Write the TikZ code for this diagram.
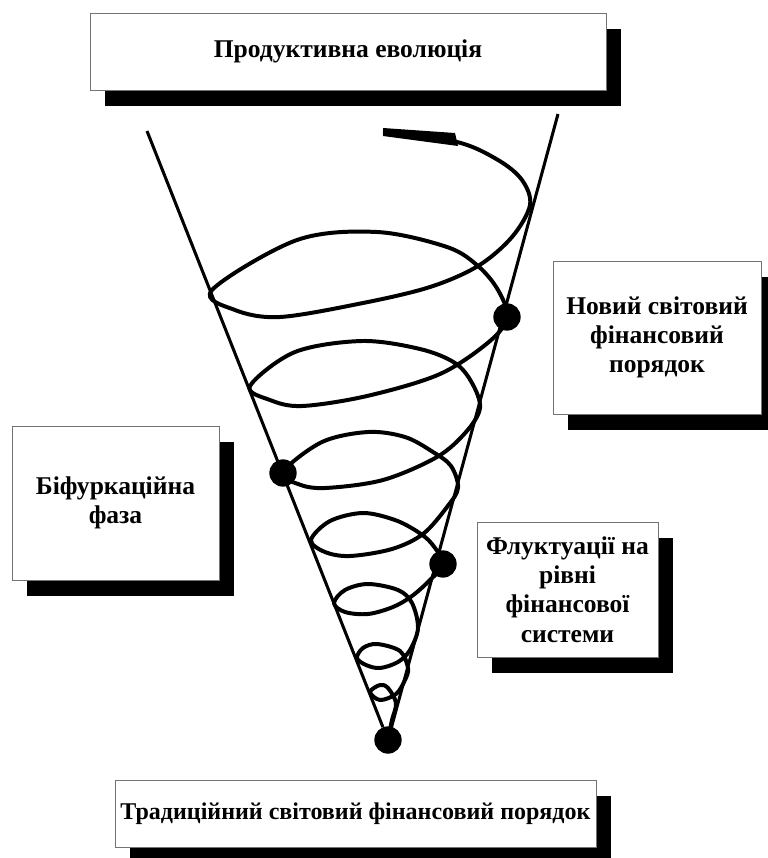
\documentclass[tikz,border=0pt]{standalone}
\usepackage{fontspec}
\setmainfont{Liberation Serif}
\usepackage{tikz}
\usetikzlibrary{arrows.meta, shadows}

\begin{document}
\begin{tikzpicture}[x=0.03cm, y=-0.03cm,
  box/.style={draw=black!55, line width=0.8pt, fill=white, align=center,
              font=\fontsize{21.8}{25}\selectfont\bfseries, inner sep=2pt,
              drop shadow={shadow xshift=0.45cm, shadow yshift=-0.48cm,
                           fill=black, opacity=1}},
  dot/.style={circle, fill=black, inner sep=0pt, minimum size=0.82cm},
  cone/.style={line width=2.6pt},
  spiral/.style={line width=3.4pt, line join=round}
]
  \useasboundingbox (0,0) rectangle (768,858);
  \clip (0,0) rectangle (768,858);

  % points on the cone
  \node[dot] (base)   at (388,740) {};
  \node[dot] (bifdot) at (283,473) {};
  \node[dot] (fludot) at (443,564) {};
  \node[dot] (newdot) at (507,317) {};
  \coordinate (lefttop)  at (147,131);
  \coordinate (righttop) at (558,114);

  % cone
  \draw[cone] (lefttop) -- (base);
  \draw[cone] (righttop) -- (base);

  % spiral, from the base upwards
  \draw[spiral] plot[smooth, tension=0.55] coordinates {
    (388,740) (392,720) (396,703) (388,688) (380,685) (370,692) (380,700)
    (396,694) (405,680) (408,668) (400,651) (377,644) (363,648) (357,658)
    (366,665) (380,668) (398,662) (410,650) (418,628)
    (412,603) (398,590) (368,584) (345,590) (334,603)
    (345,612) (368,614) (393,607) (412,596) (430,580) (443,564)
    (432,544) (418,532) (395,520) (363,513) (330,521) (311,540)
    (325,552) (350,556) (392,549) (423,534) (447,507) (458,488)
    (451,466) (433,452) (405,437) (368,432) (322,442) (283,472)
    (298,484) (325,488) (383,480) (437,457) (466,432) (480,408)
    (472,383) (455,363) (420,349) (362,341) (295,352) (250,386)
    (270,400) (302,406) (367,396) (440,374) (490,341) (507,317)
    (498,290) (478,266) (447,247) (377,232) (297,240) (212,290)
    (235,310) (280,317) (363,303) (430,287) (478,266) (512,237) (530,205)
    (522,180) (498,160) (457,142) (383,132)};
  % thick end of the spiral
  \fill (383,128) -- (455,133) -- (458,146) -- (383,136) -- cycle;

  % labels
  \node[box, minimum width=15.48cm, minimum height=2.31cm] (evol) at (348,51.5)
    {Продуктивна еволюція};
  \node[box, minimum width=6.24cm, minimum height=4.59cm] (neworder) at (657,337.5)
    {Новий світовий\\фінансовий\\порядок};
  \node[box, minimum width=6.21cm, minimum height=4.62cm] (bifurc) at (115.5,503)
    {Біфуркаційна\\фаза};
  \node[box, minimum width=5.43cm, minimum height=4.05cm] (fluct) at (567.5,589.5)
    {Флуктуації на\\рівні\\фінансової\\системи};
  \node[box, minimum width=14.43cm, minimum height=2.01cm,
        font=\fontsize{20.5}{25}\selectfont\bfseries] (tradorder) at (355.5,813.5)
    {Традиційний світовий фінансовий порядок};
\end{tikzpicture}
\end{document}
